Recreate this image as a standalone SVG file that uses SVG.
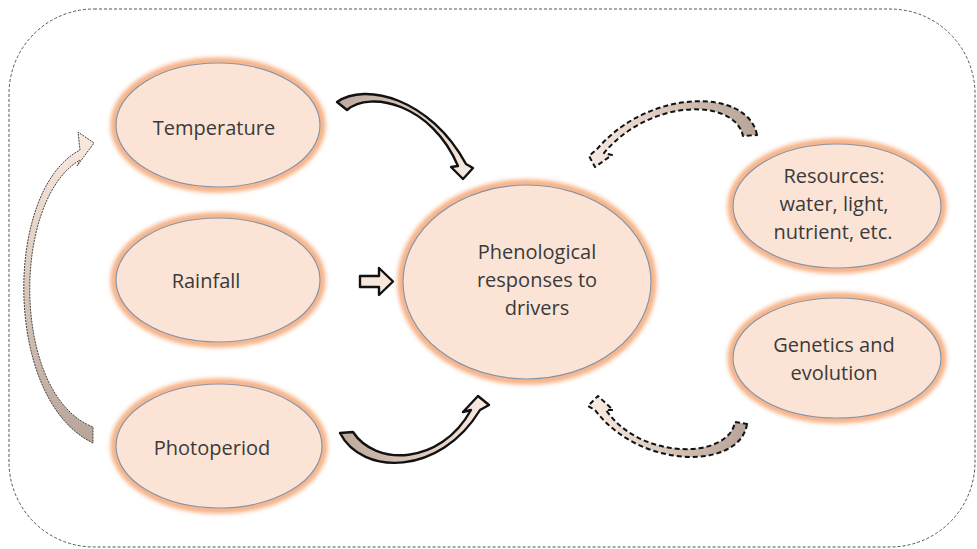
<svg xmlns="http://www.w3.org/2000/svg" width="977" height="549" viewBox="0 0 977 549">
<style>
.glow{fill:none;stroke:#f6ae80;stroke-width:7;filter:url(#blur)}
.node{fill:#fbe4d6;stroke:#8693a8;stroke-width:1.2}
.lbl{font-family:"Open Sans","Noto Sans",sans-serif;font-size:20px;fill:#3a3a3a;text-anchor:middle}
.solid{stroke:#111;stroke-width:2.4;stroke-linejoin:round}
.dash{stroke:#111;stroke-width:2;stroke-dasharray:5 3;stroke-linejoin:round}
</style>
<defs>
<filter id="blur" x="-20%" y="-20%" width="140%" height="140%"><feGaussianBlur stdDeviation="2.2"/></filter>
<linearGradient id="g1" gradientUnits="userSpaceOnUse" x1="337" y1="100" x2="466" y2="175"><stop offset="0" stop-color="#bda89c"/><stop offset="1" stop-color="#f8e9e0"/></linearGradient>
<linearGradient id="g3" gradientUnits="userSpaceOnUse" x1="340" y1="435" x2="480" y2="400"><stop offset="0" stop-color="#bda89c"/><stop offset="1" stop-color="#f8e9e0"/></linearGradient>
<linearGradient id="g4" gradientUnits="userSpaceOnUse" x1="757" y1="130" x2="592" y2="162"><stop offset="0" stop-color="#b8a498"/><stop offset="1" stop-color="#f8e9e0"/></linearGradient>
<linearGradient id="g5" gradientUnits="userSpaceOnUse" x1="745" y1="425" x2="598" y2="400"><stop offset="0" stop-color="#b8a498"/><stop offset="1" stop-color="#f8e9e0"/></linearGradient>
<linearGradient id="g6" gradientUnits="userSpaceOnUse" x1="0" y1="140" x2="0" y2="443"><stop offset="0" stop-color="#f9e8dd"/><stop offset="1" stop-color="#b8a498"/></linearGradient>
</defs>
<rect x="9" y="9" width="966" height="538" rx="85" ry="85" fill="none" stroke="#555" stroke-width="1" stroke-dasharray="3 2"/>
<g id="connectors">
<path id="temp-to-center" class="solid" fill="url(#g1)" d="M337,102 C365,82 430,98 466,164 L473,168 L463,179 L451,167 L458,166 C432,104 370,90 347,110 Z"/>
<path id="rain-to-center" class="solid" fill="#f8e6da" d="M360,276 L379,276 L379,268 L393,281.5 L379,295 L379,287 L360,287 Z"/>
<path id="photo-to-center" class="solid" fill="url(#g3)" d="M340,433 C362,476 440,476 480,410 L489,405 L478,396 L463,412 L471,410 C440,466 375,466 353,432 Z"/>
<path id="res-to-center" class="dash" fill="url(#g4)" d="M757,135 C748,88 650,88 598,148 L589,156 L595,167 L612,155 L604,153 C650,98 735,98 743,136 Z"/>
<path id="gen-to-center" class="dash" fill="url(#g5)" d="M747,424 C740,470 640,470 595,410 L588,406 L598,396 L613,410 L606,410 C640,460 728,460 735,422 Z"/>
<path id="photo-to-temp" fill="url(#g6)" stroke="#444" stroke-width="1" stroke-dasharray="2 1" d="M93,443 C3,400 3,190 80,150 L78,132 L94,143 L77,166 L80,160 C11,200 11,395 93,427 Z"/>
</g>
<g id="temperature">
<ellipse class="glow" cx="218" cy="125" rx="104" ry="64"/>
<ellipse class="node" cx="218" cy="125" rx="102" ry="62"/>
<text class="lbl" x="214" y="135">Temperature</text>
</g>
<g id="rainfall">
<ellipse class="glow" cx="218" cy="280" rx="104" ry="64"/>
<ellipse class="node" cx="218" cy="280" rx="102" ry="62"/>
<text class="lbl" x="206" y="288">Rainfall</text>
</g>
<g id="photoperiod">
<ellipse class="glow" cx="219" cy="446" rx="105" ry="64"/>
<ellipse class="node" cx="219" cy="446" rx="103" ry="62"/>
<text class="lbl" x="212" y="455">Photoperiod</text>
</g>
<g id="center">
<ellipse class="glow" cx="527" cy="282" rx="126" ry="99"/>
<ellipse class="node" cx="527" cy="282" rx="124" ry="97"/>
<text class="lbl" x="537" y="259">Phenological</text>
<text class="lbl" x="537" y="287">responses to</text>
<text class="lbl" x="537" y="315">drivers</text>
</g>
<g id="resources">
<ellipse class="glow" cx="837" cy="206" rx="106" ry="64"/>
<ellipse class="node" cx="837" cy="206" rx="104" ry="62"/>
<text class="lbl" x="834" y="183">Resources:</text>
<text class="lbl" x="834" y="211">water, light,</text>
<text class="lbl" x="833" y="239">nutrient, etc.</text>
</g>
<g id="genetics">
<ellipse class="glow" cx="837" cy="358" rx="106" ry="62"/>
<ellipse class="node" cx="837" cy="358" rx="104" ry="60"/>
<text class="lbl" x="834" y="352">Genetics and</text>
<text class="lbl" x="834" y="380">evolution</text>
</g>
</svg>
